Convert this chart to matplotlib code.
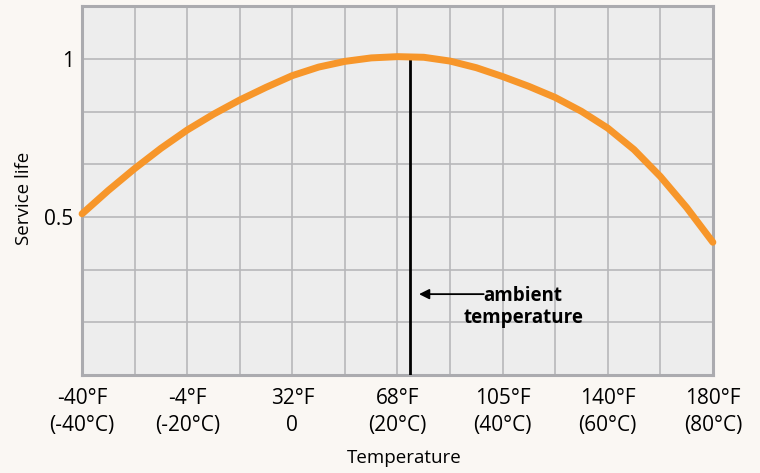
import numpy as np
import matplotlib.pyplot as plt

plt.rcParams['font.family'] = ['Open Sans', 'DejaVu Sans']

# service life curve, every 5 degC
temp_c = [-40, -35, -30, -25, -20, -15, -10, -5, 0, 5, 10, 15, 20,
          25, 30, 35, 40, 45, 50, 55, 60, 65, 70, 75, 80]
life = [0.51, 0.584, 0.653, 0.717, 0.775, 0.825, 0.870, 0.910, 0.947, 0.974, 0.992, 1.003, 1.007,
        1.005, 0.993, 0.972, 0.944, 0.913, 0.878, 0.834, 0.781, 0.713, 0.628, 0.530, 0.420]

tick_c = [-40, -20, 0, 20, 40, 60, 80]
tick_labels = ["-40°F\n(-40°C)", "-4°F\n(-20°C)", "32°F\n0", "68°F\n(20°C)",
               "105°F\n(40°C)", "140°F\n(60°C)", "180°F\n(80°C)"]
ambient_c = 22.4
ambient_life = 1.0

bg = "#FAF7F3"
fig = plt.figure(figsize=(7.6, 4.73), dpi=100, facecolor=bg)
ax = fig.add_axes([0.108, 0.207, 0.83, 0.78])
ax.set_facecolor("#EDEDED")

ax.set_xlim(-40, 80)
ax.set_ylim(0, 7 / 6)

# grid every 10 degC and every 1/6 of service life
for gx in np.arange(-30, 80, 10):
    ax.axvline(gx, color="#B7B7BA", lw=1.2, zorder=1)
for gy in np.arange(1, 7) / 6:
    ax.axhline(gy, color="#B7B7BA", lw=1.2, zorder=1)

ax.set_xticks(tick_c)
ax.set_xticklabels(tick_labels, fontsize=15, linespacing=1.4)
ax.set_yticks([0.5, 1])
ax.set_yticklabels(["0.5", "1"], fontsize=15)
ax.tick_params(length=0, pad=9)
ax.tick_params(axis="y", pad=6)

for s in ax.spines.values():
    s.set_color("#ABABAF")
    s.set_linewidth(2.2)

ax.plot([ambient_c, ambient_c], [0, ambient_life], color="black", lw=2.0, zorder=3)
ax.plot(temp_c, life, color="#F7962A", lw=5, solid_capstyle="round", zorder=4, clip_on=False)

ax.text(43.9, 0.216, "ambient\ntemperature", fontsize=13.5, fontweight="bold",
        ha="center", va="center", multialignment="center", linespacing=1.15)
ax.annotate("", xy=(24.1, 0.256), xytext=(36.4, 0.256),
            arrowprops=dict(arrowstyle="-|>", color="black", lw=1.3,
                            mutation_scale=15, shrinkA=0, shrinkB=0))

ax.set_xlabel("Temperature", fontsize=13.5, labelpad=6)
ax.xaxis.set_label_coords(0.51, -0.2)
ax.set_ylabel("Service life", fontsize=13.5)
ax.yaxis.set_label_coords(-0.078, 0.48)

fig.savefig("out.png", dpi=100, facecolor=bg)
